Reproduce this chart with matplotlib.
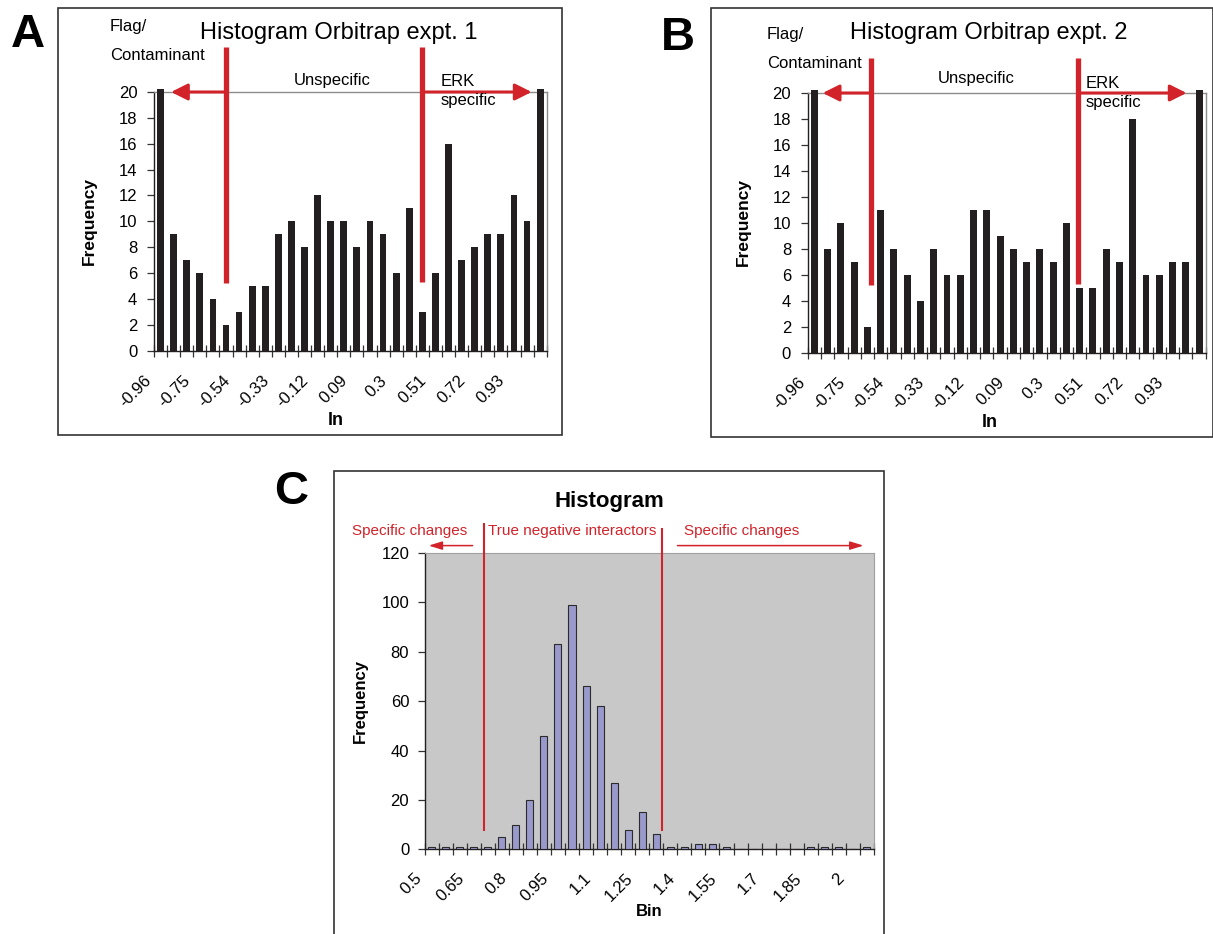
import matplotlib
matplotlib.use("Agg")
import matplotlib.pyplot as plt
from matplotlib import font_manager
from matplotlib.patches import Rectangle
from matplotlib.transforms import ScaledTranslation
import numpy as np

W, H = 1213, 934
RED = "#D2232A"
BAR_DARK = "#231F20"

# ---------------------------------------------------------------------------
# Data
# ---------------------------------------------------------------------------
ORBI_TICK_LABELS = ["-0.96", "-0.75", "-0.54", "-0.33", "-0.12",
                    "0.09", "0.3", "0.51", "0.72", "0.93"]
# end bins run a little past the 20 axis limit
EXPT1_FREQ = [20.2, 9, 7, 6, 4, 2, 3, 5, 5, 9, 10, 8, 12, 10, 10,
              8, 10, 9, 6, 11, 3, 6, 16, 7, 8, 9, 9, 12, 10, 20.2]
EXPT2_FREQ = [20.2, 8, 10, 7, 2, 11, 8, 6, 4, 8, 6, 6, 11, 11, 9,
              8, 7, 8, 7, 10, 5, 5, 8, 7, 18, 6, 6, 7, 7, 20.2]

BIN_TICK_LABELS = ["0.5", "0.65", "0.8", "0.95", "1.1", "1.25",
                   "1.4", "1.55", "1.7", "1.85", "2"]
BIN_FREQ = [1, 1, 1, 1, 1, 5, 10, 20, 46, 83, 99, 66, 58, 27, 8, 15,
            6, 1, 1, 2, 2, 1, 0, 0, 0, 0, 0, 1, 1, 1, 0, 1]

available = {f.name for f in font_manager.fontManager.ttflist}
if "Liberation Sans Narrow" in available:
    NARROW, NARROW_SIZE = "Liberation Sans Narrow", 13.5
else:
    NARROW, NARROW_SIZE = "Liberation Sans", 11

plt.rcParams["font.family"] = ["Liberation Sans", "DejaVu Sans"]

fig = plt.figure(figsize=(W / 100, H / 100), dpi=100)


def px_box(left, top, right, bottom):
    return [left / W, 1 - bottom / H, (right - left) / W, (bottom - top) / H]


def ftext(x, y, s, **kw):
    kw.setdefault("va", "center")
    fig.text(x / W, 1 - y / H, s, **kw)


def frame(left, top, right, bottom):
    fig.patches.append(Rectangle((left / W, 1 - bottom / H), (right - left) / W,
                                 (bottom - top) / H, transform=fig.transFigure,
                                 fill=False, edgecolor="#333333", lw=1.2))


def red_arrow(ax, x0, x1, y, lw, style, scale):
    ax.annotate("", xy=(x1, y), xytext=(x0, y), annotation_clip=False,
                arrowprops=dict(arrowstyle=style, mutation_scale=scale, color=RED,
                                lw=lw, shrinkA=0, shrinkB=0), zorder=5)


def style_axes(ax, n, tick_labels, pad):
    idx = np.arange(n)
    ax.set_xlim(-0.5, n - 0.5)
    ax.set_xticks(idx[::3], tick_labels, rotation=45, ha="right", va="baseline",
                  rotation_mode="anchor")
    ax.set_xticks(np.arange(n + 1) - 0.5, minor=True)
    ax.tick_params(axis="x", which="major", length=0, pad=pad, labelsize=12)
    ax.tick_params(axis="x", which="minor", direction="inout", length=8,
                   width=0.9, color="#333333")
    ax.tick_params(axis="y", direction="out", length=5, width=0.9, pad=7,
                   labelsize=12, color="#333333")
    for side in ("left", "bottom"):
        ax.spines[side].set_color(BAR_DARK)
        ax.spines[side].set_linewidth(1.0)
    # Excel puts the rotated label ends a little left of the category centre
    shift = ScaledTranslation(-8.5 / 100, 0, fig.dpi_scale_trans)
    for lab in ax.get_xticklabels():
        lab.set_transform(lab.get_transform() + shift)


def orbitrap_panel(box, freq, lines, line_top, tips):
    ax = fig.add_axes(box)
    n = len(freq)
    ax.bar(np.arange(n), freq, width=0.52, color=BAR_DARK, zorder=3, clip_on=False)
    ax.set_ylim(0, 20)
    ax.set_yticks(range(0, 21, 2))
    style_axes(ax, n, ORBI_TICK_LABELS, 22)
    for side in ("top", "right"):
        ax.spines[side].set_color("#8C8C8C")
        ax.spines[side].set_linewidth(1.0)
    for x, lo in zip(lines, (5.2, 5.3)):
        ax.plot([x, x], [lo, line_top], color=RED, lw=3.8, clip_on=False,
                zorder=6, solid_capstyle="butt")
    style = "-|>,head_length=0.5,head_width=0.25"
    red_arrow(ax, lines[0], tips[0], 20, 2.2, style, 20)
    red_arrow(ax, lines[1], tips[1], 20, 2.2, style, 20)
    return ax


# ---------------------------------------------------------------------------
# A
# ---------------------------------------------------------------------------
orbitrap_panel(px_box(154, 92, 546.7, 350.7), EXPT1_FREQ, (5, 20), 23.5, (0.8, 28.35))
frame(58.3, 8.3, 561.7, 434.7)
ftext(11, 47, "A", fontsize=34, fontweight="bold", va="baseline")
ftext(110, 27, "Flag/", fontsize=12)
ftext(110, 56, "Contaminant", fontsize=12)
ftext(339, 33, "Histogram Orbitrap expt. 1", fontsize=17, ha="center")
ftext(331.7, 81, "Unspecific", fontsize=12, ha="center")
ftext(440.7, 81.7, "ERK", fontsize=12)
ftext(440.7, 100, "specific", fontsize=12)
ftext(89.3, 221, "Frequency", fontsize=12.5, fontweight="bold", rotation=90, ha="center")
ftext(336, 420.7, "ln", fontsize=13, fontweight="bold", ha="center")

# ---------------------------------------------------------------------------
# B
# ---------------------------------------------------------------------------
orbitrap_panel(px_box(807.7, 93, 1205.7, 352.7), EXPT2_FREQ, (4.3, 19.9), 22.7, (0.63, 28.06))
frame(710.7, 8.3, 1212.5, 436.7)
ftext(660.7, 50, "B", fontsize=34, fontweight="bold", va="baseline")
ftext(766.7, 35, "Flag/", fontsize=12)
ftext(766.7, 64, "Contaminant", fontsize=12)
ftext(989, 33, "Histogram Orbitrap expt. 2", fontsize=17, ha="center")
ftext(975.8, 79, "Unspecific", fontsize=12, ha="center")
ftext(1086, 84, "ERK", fontsize=12)
ftext(1086, 103, "specific", fontsize=12)
ftext(743.3, 222.5, "Frequency", fontsize=12.5, fontweight="bold", rotation=90, ha="center")
ftext(989.3, 422.7, "ln", fontsize=13, fontweight="bold", ha="center")

# ---------------------------------------------------------------------------
# C
# ---------------------------------------------------------------------------
axc = fig.add_axes(px_box(424.5, 553, 874, 849.3))
axc.set_facecolor("#C8C8C8")
nc = len(BIN_FREQ)
axc.bar(np.arange(nc), BIN_FREQ, width=0.5, color="#9999CC", edgecolor="#2B2B2B",
        linewidth=0.8, zorder=3)
axc.set_ylim(0, 120)
axc.set_yticks(range(0, 121, 20))
axc.tick_params(axis="y", pad=6)
style_axes(axc, nc, BIN_TICK_LABELS, 21.5)
axc.tick_params(axis="y", pad=6)
for side in ("top", "right"):
    axc.spines[side].set_color("#A0A0A0")
for x, top in ((3.77, 132), (16.42, 130)):
    axc.plot([x, x], [7.4, top], color=RED, lw=1.5, clip_on=False, zorder=6,
             solid_capstyle="butt")
cstyle = "-|>,head_length=0.8,head_width=0.25"
red_arrow(axc, 2.93, -0.2, 123, 1.1, cstyle, 10)
red_arrow(axc, 17.51, 30.75, 123, 1.1, cstyle, 10)

frame(334, 470.7, 883.7, 945)
ftext(274, 504, "C", fontsize=34, fontweight="bold", va="baseline")
ftext(609.5, 501, "Histogram", fontsize=16, fontweight="bold", ha="center")
ftext(351.5, 531, "Specific changes", fontsize=NARROW_SIZE, color=RED, family=NARROW)
ftext(487.6, 531, "True negative interactors", fontsize=NARROW_SIZE, color=RED, family=NARROW)
ftext(683.5, 531, "Specific changes", fontsize=NARROW_SIZE, color=RED, family=NARROW)
ftext(360.4, 701, "Frequency", fontsize=12, fontweight="bold", rotation=90, ha="center")
ftext(649, 912, "Bin", fontsize=12, fontweight="bold", ha="center")

fig.savefig("out.png", dpi=100)
